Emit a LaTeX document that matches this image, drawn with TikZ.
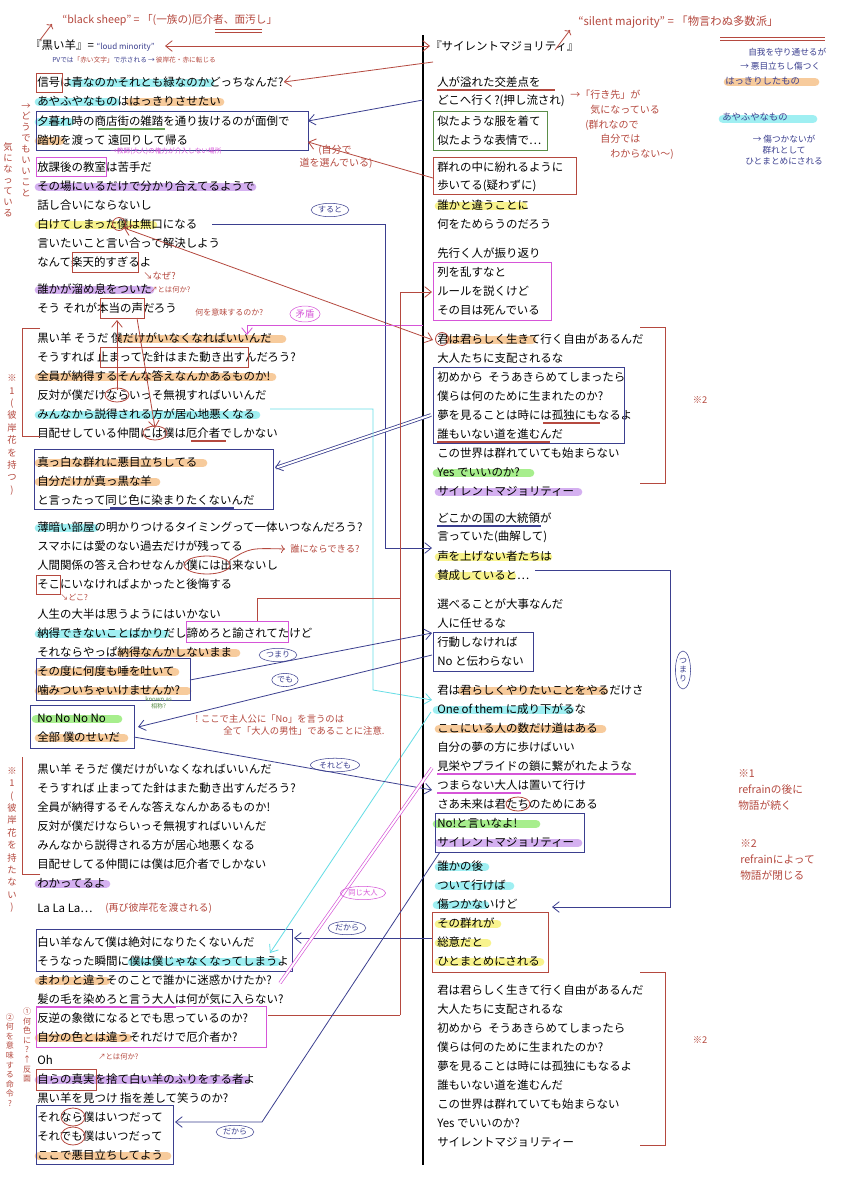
\documentclass[tikz,border=0pt]{standalone}
\usepackage{fontspec}
\setmainfont{Noto Sans CJK JP}
\usetikzlibrary{arrows.meta,shapes.geometric}
\definecolor{nv}{HTML}{3B3F8F}
\definecolor{rd}{HTML}{B5493F}
\definecolor{mg}{HTML}{D655D8}
\definecolor{hor}{HTML}{F6C28B}
\definecolor{hcy}{HTML}{8FEDF0}
\definecolor{hpu}{HTML}{CDA3EE}
\definecolor{hye}{HTML}{F7F27A}
\definecolor{hgr}{HTML}{98EC7A}
\definecolor{cy}{HTML}{66DDE6}
\tikzset{
 ly/.style={anchor=west,inner sep=0pt,font=\fontsize{8.6}{9}\selectfont},
 ann/.style={inner sep=0pt,text=rd,font=\fontsize{7}{8.5}\selectfont,align=left},
 annb/.style={inner sep=0pt,text=nv,font=\fontsize{6.5}{8}\selectfont,align=left},
 nbox/.style={draw=nv,line width=0.6pt},
 rbox/.style={draw=rd,line width=0.6pt},
 mbox/.style={draw=mg,line width=0.6pt},
 nl/.style={draw=nv,line width=0.6pt},
 rl/.style={draw=rd,line width=0.6pt},
 ar/.style={-{Straight Barb[length=5pt,width=8pt]}},
 oval/.style={draw=nv,ellipse,inner sep=1pt,font=\fontsize{6}{7}\selectfont,text=nv},
}
\newcommand\hl[4]{\draw[#1,line width=6.5pt,line cap=round,opacity=0.85] (#2,#4+1) -- (#3,#4+1);}
\newcommand\ul[4]{\draw[#1,line width=1pt] (#2,#4+8) -- (#3,#4+8);}
\begin{document}
\begin{tikzpicture}[x=0.75pt,y=-0.75pt]
\useasboundingbox[fill=white] (0,0) rectangle (845,1200);
% ---------- highlights
\hl{hcy}{72}{210}{82}
\hl{hcy}{39}{116}{101}\hl{hor}{130}{220}{101}
\hl{hcy}{39}{70}{121}\ul{hgr!70!black}{98}{165}{121}
\hl{hor}{39}{60}{140}
\hl{hpu}{39}{252}{186}
\hl{hye}{39}{153}{224}
\hl{hpu}{39}{150}{289}
\hl{hor}{121}{282}{338}
\hl{hor}{39}{272}{376}
\hl{hcy}{39}{256}{414}
\hl{hor}{39}{203}{462}\hl{hor}{39}{156}{481}
\hl{hcy}{39}{94}{527}
\hl{hcy}{39}{165}{633}
\hl{hor}{121}{236}{652}
\hl{hor}{39}{175}{671}\hl{hor}{39}{187}{690}
\hl{hgr}{36}{118}{718}\hl{hor}{39}{124}{737}
\hl{hpu}{39}{106}{883}
\hl{hcy}{132}{277}{961}
\hl{hor}{39}{106}{980}
\hl{hor}{39}{128}{1037}
\hl{hpu}{39}{246}{1079}
\hl{hor}{39}{167}{1155}
\hl{hye}{439}{523}{205}
\hl{hor}{449}{532}{339}
\hl{hgr}{437}{530}{472}\hl{hpu}{439}{578}{491}
\hl{hye}{439}{548}{556}\hl{hye}{439}{512}{575}
\hl{hor}{462}{604}{690}
\hl{hcy}{437}{570}{709}\hl{hor}{439}{602}{728}
\hl{hgr}{437}{536}{823}\hl{hpu}{439}{578}{842}
\hl{hcy}{439}{485}{866}\hl{hcy}{439}{510}{885}\hl{hcy}{437}{485}{904}
\hl{hye}{439}{497}{923}\hl{hye}{439}{487}{942}\hl{hye}{439}{540}{961}
\ul{mg}{37}{176}{999}
\ul{nv}{110}{234}{500}
\ul{rd}{191}{226}{433}
\ul{mg}{437}{636}{766}\ul{mg}{437}{521}{785}
\ul{nv}{437}{541}{518}
\ul{rd}{543}{600}{415}\ul{rd}{437}{550}{434}
\ul{rd}{437}{555}{82}
% ---------- center line
\draw[line width=0.9pt] (423,35) -- (423,1165);
% ---------- lyrics left
\node[ly] (h1) at (30,46) {『黒い羊』= \textcolor{nv}{\fontsize{6}{7}\selectfont ``loud minority''}};
\node[ly] (l01) at (37,82) {信号は青なのかそれとも緑なのかどっちなんだ?};
\node[ly] (l02) at (37,101) {あやふやなものははっきりさせたい};
\node[ly] (l03) at (37,121) {夕暮れ時の商店街の雑踏を通り抜けるのが面倒で};
\node[ly] (l04) at (37,140) {踏切を渡って\ 遠回りして帰る};
\node[ly] (l05) at (37,167) {放課後の教室は苦手だ};
\node[ly] (l06) at (37,186) {その場にいるだけで分かり合えてるようで};
\node[ly] (l07) at (37,205) {話し合いにならないし};
\node[ly] (l08) at (37,224) {白けてしまった僕は無口になる};
\node[ly] (l09) at (37,243) {言いたいこと言い合って解決しよう};
\node[ly] (l10) at (37,262) {なんて楽天的すぎるよ};
\node[ly] (l11) at (37,289) {誰かが溜め息をついた};
\node[ly] (l12) at (37,308) {そう\ それが本当の声だろう};
\node[ly] (l13) at (37,338) {黒い羊\ そうだ\ 僕だけがいなくなればいいんだ};
\node[ly] (l14) at (37,357) {そうすれば\ 止まってた針はまた動き出すんだろう?};
\node[ly] (l15) at (37,376) {全員が納得するそんな答えなんかあるものか!};
\node[ly] (l16) at (37,395) {反対が僕だけならいっそ無視すればいいんだ};
\node[ly] (l17) at (37,414) {みんなから説得される方が居心地悪くなる};
\node[ly] (l18) at (37,433) {目配せしている仲間には僕は厄介者でしかない};
\node[ly] (l19) at (37,462) {真っ白な群れに悪目立ちしてる};
\node[ly] (l20) at (37,481) {自分だけが真っ黒な羊};
\node[ly] (l21) at (37,500) {と言ったって同じ色に染まりたくないんだ};
\node[ly] (l22) at (37,527) {薄暗い部屋の明かりつけるタイミングって一体いつなんだろう?};
\node[ly] (l23) at (37,546) {スマホには愛のない過去だけが残ってる};
\node[ly] (l24) at (37,565) {人間関係の答え合わせなんか僕には出来ないし};
\node[ly] (l25) at (37,584) {そこにいなければよかったと後悔する};
\node[ly] (l26) at (37,614) {人生の大半は思うようにはいかない};
\node[ly] (l27) at (37,633) {納得できないことばかりだし諦めろと諭されてたけど};
\node[ly] (l28) at (37,652) {それならやっぱ納得なんかしないまま};
\node[ly] (l29) at (37,671) {その度に何度も唾を吐いて};
\node[ly] (l30) at (37,690) {噛みついちゃいけませんか?};
\node[ly] (l31) at (37,718) {No No No No};
\node[ly] (l32) at (37,737) {全部\ 僕のせいだ};
\node[ly] (l33) at (37,769) {黒い羊\ そうだ\ 僕だけがいなくなればいいんだ};
\node[ly] (l34) at (37,788) {そうすれば\ 止まってた針はまた動き出すんだろう?};
\node[ly] (l35) at (37,807) {全員が納得するそんな答えなんかあるものか!};
\node[ly] (l36) at (37,826) {反対が僕だけならいっそ無視すればいいんだ};
\node[ly] (l37) at (37,845) {みんなから説得される方が居心地悪くなる};
\node[ly] (l38) at (37,864) {目配せしてる仲間には僕は厄介者でしかない};
\node[ly] (l39) at (37,883) {わかってるよ};
\node[ly] (l40) at (37,908) {La La La…};
\node[ly] (l41) at (37,942) {白い羊なんて僕は絶対になりたくないんだ};
\node[ly] (l42) at (37,961) {そうなった瞬間に僕は僕じゃなくなってしまうよ};
\node[ly] (l43) at (37,980) {まわりと違うそのことで誰かに迷惑かけたか?};
\node[ly] (l44) at (37,999) {髪の毛を染めろと言う大人は何が気に入らない?};
\node[ly] (l45) at (37,1018) {反逆の象徴になるとでも思っているのか?};
\node[ly] (l46) at (37,1037) {自分の色とは違うそれだけで厄介者か?};
\node[ly] (l47) at (37,1060) {Oh};
\node[ly] (l48) at (37,1079) {自らの真実を捨て白い羊のふりをする者よ};
\node[ly] (l49) at (37,1098) {黒い羊を見つけ\ 指を差して笑うのか?};
\node[ly] (l50) at (37,1117) {それなら僕はいつだって};
\node[ly] (l51) at (37,1136) {それでも僕はいつだって};
\node[ly] (l52) at (37,1155) {ここで悪目立ちしてよう};
% ---------- lyrics right
\node[ly] (h2) at (430,46) {『サイレントマジョリティ』};
\node[ly] (r01) at (437,82) {人が溢れた交差点を};
\node[ly] (r02) at (437,101) {どこへ行く?(押し流され)};
\node[ly] (r03) at (437,121) {似たような服を着て};
\node[ly] (r04) at (437,140) {似たような表情で…};
\node[ly] (r05) at (437,167) {群れの中に紛れるように};
\node[ly] (r06) at (437,186) {歩いてる(疑わずに)};
\node[ly] (r07) at (437,205) {誰かと違うことに};
\node[ly] (r08) at (437,224) {何をためらうのだろう};
\node[ly] (r09) at (437,253) {先行く人が振り返り};
\node[ly] (r10) at (437,272) {列を乱すなと};
\node[ly] (r11) at (437,291) {ルールを説くけど};
\node[ly] (r12) at (437,310) {その目は死んでいる};
\node[ly] (r13) at (437,339) {君は君らしく生きて行く自由があるんだ};
\node[ly] (r14) at (437,358) {大人たちに支配されるな};
\node[ly] (r15) at (437,377) {初めから\ \ そうあきらめてしまったら};
\node[ly] (r16) at (437,396) {僕らは何のために生まれたのか?};
\node[ly] (r17) at (437,415) {夢を見ることは時には孤独にもなるよ};
\node[ly] (r18) at (437,434) {誰もいない道を進むんだ};
\node[ly] (r19) at (437,453) {この世界は群れていても始まらない};
\node[ly] (r20) at (437,472) {Yes でいいのか?};
\node[ly] (r21) at (437,491) {サイレントマジョリティー};
\node[ly] (r22) at (437,518) {どこかの国の大統領が};
\node[ly] (r23) at (437,537) {言っていた(曲解して)};
\node[ly] (r24) at (437,556) {声を上げない者たちは};
\node[ly] (r25) at (437,575) {賛成していると…};
\node[ly] (r26) at (437,604) {選べることが大事なんだ};
\node[ly] (r27) at (437,623) {人に任せるな};
\node[ly] (r28) at (437,642) {行動しなければ};
\node[ly] (r29) at (437,661) {No と伝わらない};
\node[ly] (r30) at (437,690) {君は君らしくやりたいことをやるだけさ};
\node[ly] (r31) at (437,709) {One of them に成り下がるな};
\node[ly] (r32) at (437,728) {ここにいる人の数だけ道はある};
\node[ly] (r33) at (437,747) {自分の夢の方に歩けばいい};
\node[ly] (r34) at (437,766) {見栄やプライドの鎖に繋がれたような};
\node[ly] (r35) at (437,785) {つまらない大人は置いて行け};
\node[ly] (r36) at (437,804) {さあ未来は君たちのためにある};
\node[ly] (r37) at (437,823) {No!と言いなよ!};
\node[ly] (r38) at (437,842) {サイレントマジョリティー};
\node[ly] (r39) at (437,866) {誰かの後};
\node[ly] (r40) at (437,885) {ついて行けば};
\node[ly] (r41) at (437,904) {傷つかないけど};
\node[ly] (r42) at (437,923) {その群れが};
\node[ly] (r43) at (437,942) {総意だと};
\node[ly] (r44) at (437,961) {ひとまとめにされる};
\node[ly] (r45) at (437,990) {君は君らしく生きて行く自由があるんだ};
\node[ly] (r46) at (437,1009) {大人たちに支配されるな};
\node[ly] (r47) at (437,1028) {初めから\ \ そうあきらめてしまったら};
\node[ly] (r48) at (437,1047) {僕らは何のために生まれたのか?};
\node[ly] (r49) at (437,1066) {夢を見ることは時には孤独にもなるよ};
\node[ly] (r50) at (437,1085) {誰もいない道を進むんだ};
\node[ly] (r51) at (437,1104) {この世界は群れていても始まらない};
\node[ly] (r52) at (437,1123) {Yes でいいのか?};
\node[ly] (r53) at (437,1142) {サイレントマジョリティー};
% ---------- boxes
\draw[nbox] (36,111) rectangle (308,150);
\draw[nbox] (34,449) rectangle (273,509);
\draw[nbox] (36,658) rectangle (190,700);
\draw[nbox] (30,705) rectangle (134,748);
\draw[nbox] (36,929) rectangle (292,971);
\draw[mbox] (36,1006) rectangle (266,1047);
\draw[nbox] (36,1105) rectangle (173,1164);
\draw[rbox] (36,1069) rectangle (96,1090);
\draw[rbox] (36,73) rectangle (62,92);
\draw[mbox] (36,157) rectangle (106,176);
\draw[rbox] (72,252) rectangle (138,272);
\draw[rbox] (100,298) rectangle (144,318);
\draw[rbox] (100,347) rectangle (248,367);
\draw[mbox] (186,621) rectangle (288,642);
\draw[rbox] (36,575) rectangle (60,594);
\draw[rl] (119,224) circle (6.5);
\draw[rl] (117,395) ellipse (12 and 7);
\draw[rl] (155,433) ellipse (12 and 7);
\draw[rl] (207,565) ellipse (23 and 9);
\draw[rl] (73,1117) ellipse (12 and 9);
\draw[rl] (73,1136) ellipse (12 and 9);
\draw[rl] (442,339) circle (6.5);
\draw[rl] (518,804) ellipse (12 and 7);
\draw[draw=hgr!60!black,line width=0.6pt] (433,111) rectangle (547,150);
\draw[rbox] (433,157) rectangle (576,194);
\draw[mbox] (433,262) rectangle (551,320);
\draw[nbox] (433,367) rectangle (624,443);
\draw[nbox] (433,632) rectangle (533,671);
\draw[nbox] (435,813) rectangle (584,852);
\draw[rbox] (432,912) rectangle (548,972);
% brackets
\draw[rl] (40,328) -- (22,328) -- (22,436) -- (40,436);
\draw[rl] (40,874) -- (22,874) -- (22,757);
\draw[rl] (640,327) -- (665,327) -- (665,483) -- (640,483);
\draw[rl] (640,972) -- (665,972) -- (665,1145) -- (640,1145);
\node[ann] (s2a) at (700,400) {※2};
\node[ann] (s2b) at (700,1040) {※2};
% ---------- connectors
\coordinate (hdl) at (165,46); \coordinate (hdr) at (430,46);
\draw[rl,{Straight Barb[length=5pt,width=8pt]}-{Straight Barb[length=5pt,width=8pt]}] (hdl) -- (hdr);
\coordinate (c1) at (433,62);
\draw[rl,ar] (c1) -- (l01.east);
\draw[nl,ar] (423,100) -- (308,121);
\draw[rl,ar] (433,178) -- (308,142);
\draw[rl,{Straight Barb[length=5pt,width=8pt]}-{Straight Barb[length=5pt,width=8pt]}] (124,228) -- (433,340);
\draw[nl,ar] (212,224) -- (385,224) -- (385,548) -- (432,548);
\node[oval] (o1) at (330,210) {すると};
\draw[nl,ar] (535,570) -- (670,570) -- (670,907) -- (552,907);
\node[oval,align=center] (o2) at (683,670) {つ\\ま\\り};
\draw[mg,line width=0.6pt,ar] (423,325) -- (247,325) -- (247,335);
\node[draw=mg,ellipse,inner sep=1pt,text=mg,font=\fontsize{7}{8}\selectfont] (o3) at (305,314) {矛盾};
\draw[nl,double,double distance=1.5pt,ar] (431,415) -- (275,468);
\draw[cy,line width=0.6pt,ar] (270,409) -- (373,409) -- (373,690) -- (432,700);
\draw[cy,line width=0.6pt,ar] (431,712) -- (270,953);
\draw[rl] (257,621) -- (257,598) -- (400,598);
\draw[rl,ar] (400,1015) -- (400,292) -- (432,292);
\draw[rl] (268,1015) -- (400,1015);
\draw[nl,ar] (190,680) -- (432,633);
\node[oval] (o4) at (278,655) {つまり};
\draw[nl,ar] (432,655) -- (138,727);
\node[oval] (o5) at (285,680) {でも};
\draw[nl,ar] (134,737) -- (432,790);
\node[oval] (o6) at (335,765) {それども};
\draw[nl,ar] (432,938) -- (294,938);
\node[oval] (o7) at (347,928) {だから};
\draw[nl,ar] (440,852) -- (262,1122) -- (175,1122);
\node[oval] (o8) at (235,1132) {だから};
\draw[mg,line width=0.5pt,double,double distance=1.5pt] (280,983) -- (432,768);
\node[draw=mg,ellipse,inner sep=1pt,text=mg,font=\fontsize{5.5}{6}\selectfont] (o9) at (363,893) {同じ大人};
\draw[rl,ar] (117,390) -- (117,320);
\draw[rl,ar] (137,318) -- (155,428);
% ---------- annotations
\node[ann,anchor=west,font=\fontsize{8}{9}\selectfont] (a1) at (62,20) {``black sheep'' = 「(一族の)厄介者、面汚し」};
\draw[rl] (215,29) -- (262,29); \draw[rl] (215,32) -- (262,32);
\draw[rl,->] (40,40) -- (52,24);
\node[annb,anchor=west,font=\fontsize{5}{6}\selectfont] (a2) at (52,60) {PVでは\textcolor{rd}{「赤い文字」}で示される\,→\,\textcolor{rd}{彼岸花・赤に転じる}};
\node[ann,anchor=west,font=\fontsize{8.5}{10}\selectfont] (a3) at (578,22) {``silent majority'' = 「物言わぬ多数派」};
\draw[rl,->] (555,50) -- (570,30);
\draw[rl] (720,37) -- (825,37); \draw[rl] (720,40) -- (825,40);
\node[annb,anchor=west] (a4) at (748,52) {自我を守り通せるが};
\node[annb,anchor=west] (a5) at (740,66) {→ 悪目立ちし傷つく};
\hl{hor}{728}{815}{81}
\node[annb,anchor=west,font=\fontsize{7}{8}\selectfont] (a6) at (725,81) {はっきりしたもの};
\hl{hcy}{723}{813}{118}
\node[annb,anchor=west,font=\fontsize{7}{8}\selectfont] (a7) at (722,117) {あやふやなもの};
\node[annb,anchor=west,align=center] (a8) at (745,150) {→ 傷つかないが\\群れとして\\ひとまとめにされる};
\node[ann,anchor=west,align=left,font=\fontsize{7.5}{11}\selectfont] (a9) at (570,125) {→「行き先」が\\\hspace*{2em}気になっている\\\hspace*{1.5em}(群れなので\\\hspace*{3em}自分では\\\hspace*{4em}わからない〜)};
\node[ann,align=center,font=\fontsize{7.5}{10}\selectfont] (a10) at (335,157) {(自分で\\\ 道を選んでいる)};
\node[text=mg,inner sep=0pt,anchor=west,font=\fontsize{5}{6}\selectfont] (a11) at (110,151) {→教師(大人)の権力が介入しない場所};
\node[ann,anchor=west] (a12) at (143,276) {↘なぜ?};
\node[ann,anchor=west,font=\fontsize{5.5}{6}\selectfont] (a13) at (150,290) {↗とは何か?};
\node[ann,anchor=west,font=\fontsize{6}{7}\selectfont] (a14) at (195,312) {何を意味するのか?};
\node[ann,anchor=west] (a15) at (290,549) {誰にならできる?};
\draw[rl,->] (230,560) .. controls (250,548) .. (285,549);
\node[ann,anchor=west,font=\fontsize{6}{7}\selectfont] (a16) at (60,597) {↘どこ?};
\node[anchor=west,inner sep=0pt,text=hgr!60!black,font=\fontsize{4.5}{5.5}\selectfont,align=center] (a17) at (145,703) {known as\\相称?};
\node[ann,anchor=west,font=\fontsize{7}{9.5}\selectfont] (a18) at (195,725) {! ここで主人公に「No」を言うのは\\\hspace*{3em}全て「大人の男性」であることに注意.};
\node[ann,anchor=west,font=\fontsize{7.5}{9}\selectfont] (a19) at (105,908) {(再び彼岸花を渡される)};
\node[ann,anchor=west,font=\fontsize{5.5}{6}\selectfont] (a20) at (98,1057) {↗とは何か?};
\node[ann,align=center,font=\fontsize{7}{8.2}\selectfont] (a21) at (26,150) {→\\ど\\う\\で\\も\\い\\い\\こ\\と};
\node[ann,align=center,font=\fontsize{7}{8.2}\selectfont] (a22) at (8,180) {気\\に\\な\\っ\\て\\い\\る};
\node[ann,align=center,font=\fontsize{7}{9.3}\selectfont] (a23) at (12,435) {※\\1\\(\\彼\\岸\\花\\を\\持\\つ\\)};
\node[ann,align=center,font=\fontsize{7}{9.3}\selectfont] (a24) at (12,840) {※\\1\\(\\彼\\岸\\花\\を\\持\\た\\な\\い\\)};
\node[ann,align=center,font=\fontsize{6}{7.2}\selectfont] (a25) at (27,1045) {①\\何\\色\\に\\?\\↑\\反\\面};
\node[ann,align=center,font=\fontsize{6}{7.2}\selectfont] (a26) at (10,1060) {②\\何\\を\\意\\味\\す\\る\\命\\令\\?};
\node[ann,anchor=west,align=left,font=\fontsize{8}{12}\selectfont] (a27) at (738,790) {※1\\refrainの後に\\物語が続く};
\node[ann,anchor=west,align=left,font=\fontsize{8}{12}\selectfont] (a28) at (740,860) {※2\\refrainによって\\物語が閉じる};
\end{tikzpicture}
\end{document}
